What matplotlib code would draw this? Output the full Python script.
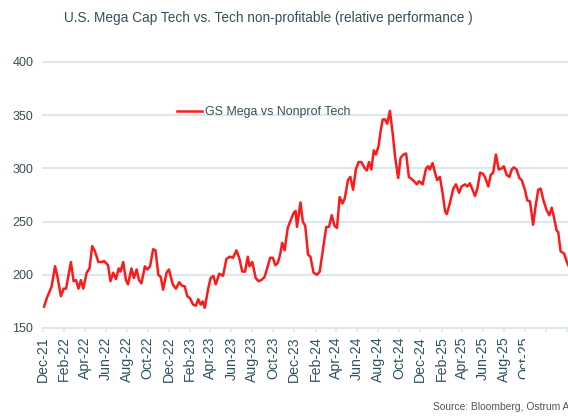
import matplotlib
matplotlib.use("Agg")
import matplotlib.pyplot as plt
import matplotlib.dates as mdates
from matplotlib.transforms import Bbox
import pandas as pd

plt.rcParams['font.family'] = ['Liberation Sans', 'DejaVu Sans']

title = "U.S. Mega Cap Tech vs. Tech non-profitable (relative performance )"
series_name = "GS Mega vs Nonprof Tech"
source = "Source: Bloomberg, Ostrum AM"

dates = [
    "2021-12-04", "2021-12-12", "2021-12-26", "2022-01-05", "2022-01-12", "2022-01-22",
    "2022-01-30", "2022-02-06", "2022-02-20", "2022-02-28", "2022-03-07", "2022-03-14",
    "2022-03-21", "2022-03-28", "2022-04-07", "2022-04-15", "2022-04-23", "2022-05-01",
    "2022-05-11", "2022-05-21", "2022-05-27", "2022-06-08", "2022-06-15", "2022-06-23",
    "2022-07-01", "2022-07-09", "2022-07-14", "2022-07-22", "2022-07-30", "2022-08-05",
    "2022-08-15", "2022-08-22", "2022-08-30", "2022-09-06", "2022-09-13", "2022-09-23",
    "2022-09-30", "2022-10-08", "2022-10-17", "2022-10-24", "2022-11-01", "2022-11-08",
    "2022-11-15", "2022-11-25", "2022-12-02", "2022-12-13", "2022-12-22", "2023-01-01",
    "2023-01-08", "2023-01-17", "2023-01-24", "2023-02-01", "2023-02-10", "2023-02-18",
    "2023-02-25", "2023-03-04", "2023-03-10", "2023-03-16", "2023-03-26", "2023-04-02",
    "2023-04-10", "2023-04-17", "2023-04-27", "2023-05-08", "2023-05-18", "2023-05-28",
    "2023-06-06", "2023-06-16", "2023-06-24", "2023-07-03", "2023-07-11", "2023-07-19",
    "2023-07-24", "2023-08-01", "2023-08-11", "2023-08-19", "2023-08-27", "2023-09-06",
    "2023-09-15", "2023-09-22", "2023-09-30", "2023-10-07", "2023-10-14", "2023-10-21",
    "2023-10-27", "2023-11-03", "2023-11-12", "2023-11-19", "2023-11-29", "2023-12-05",
    "2023-12-09", "2023-12-19", "2023-12-26", "2024-01-02", "2024-01-10", "2024-01-17",
    "2024-01-26", "2024-02-05", "2024-02-13", "2024-02-22", "2024-03-03", "2024-03-11",
    "2024-03-19", "2024-03-27", "2024-04-03", "2024-04-11", "2024-04-19", "2024-04-26",
    "2024-05-05", "2024-05-12", "2024-05-20", "2024-05-28", "2024-06-05", "2024-06-13",
    "2024-06-23", "2024-06-29", "2024-07-05", "2024-07-12", "2024-07-19", "2024-07-25",
    "2024-08-02", "2024-08-08", "2024-08-14", "2024-08-21", "2024-08-27", "2024-09-04",
    "2024-09-12", "2024-09-19", "2024-09-28", "2024-10-05", "2024-10-13", "2024-10-21",
    "2024-10-29", "2024-11-06", "2024-11-13", "2024-11-21", "2024-11-28", "2024-12-08",
    "2024-12-18", "2024-12-24", "2024-12-29", "2025-01-06", "2025-01-13", "2025-01-19",
    "2025-01-27", "2025-02-04", "2025-02-11", "2025-02-16", "2025-02-25", "2025-03-07",
    "2025-03-15", "2025-03-24", "2025-03-31", "2025-04-10", "2025-04-17", "2025-04-24",
    "2025-05-02", "2025-05-09", "2025-05-16", "2025-05-24", "2025-06-01", "2025-06-07",
    "2025-06-17", "2025-06-24", "2025-07-01", "2025-07-09", "2025-07-17", "2025-07-26",
    "2025-08-01", "2025-08-09", "2025-08-17", "2025-08-24", "2025-08-30", "2025-09-07",
    "2025-09-15", "2025-09-22", "2025-10-01", "2025-10-08", "2025-10-16", "2025-10-25",
    "2025-11-02", "2025-11-09", "2025-11-16", "2025-11-24", "2025-12-03", "2025-12-11",
    "2025-12-18", "2025-12-24", "2026-01-01", "2026-01-06", "2026-01-13", "2026-01-23",
    "2026-01-31", "2026-02-04",
]
values = [
    170, 178, 189, 208, 198, 180,
    187, 187, 212, 194, 195, 187,
    195, 187, 202, 206, 227, 222,
    212, 212, 213, 209, 194, 202,
    196, 206, 203, 212, 195, 191,
    206, 197, 205, 195, 192, 208,
    205, 208, 224, 223, 200, 198,
    186, 202, 205, 191, 187, 193,
    190, 189, 180, 178, 172, 171,
    177, 172, 175, 169, 187, 197,
    199, 191, 201, 199, 215, 217,
    216, 223, 216, 203, 203, 217,
    208, 212, 197, 194, 195, 198,
    208, 216, 216, 209, 211, 219,
    230, 223, 244, 250, 258, 260,
    245, 268, 250, 246, 219, 217,
    202, 200, 203, 223, 245, 245,
    256, 246, 244, 273, 267, 272,
    289, 292, 280, 299, 306, 306,
    300, 298, 306, 299, 317, 313,
    321, 335, 346, 346, 342, 354,
    333, 311, 291, 310, 313, 314,
    292, 290, 288, 285, 288, 285,
    300, 302, 299, 305, 296, 289,
    292, 277, 260, 257, 267, 281,
    285, 277, 283, 285, 283, 286,
    280, 274, 281, 296, 295, 292,
    283, 294, 296, 313, 299, 300,
    302, 294, 292, 299, 301, 299,
    291, 289, 280, 270, 269, 247,
    266, 280, 281, 270, 261, 256,
    263, 255, 242, 240, 222, 220,
    212, 209,
]
y_ticks = [150, 200, 250, 300, 350, 400]
x_start = "2021-12-01"
x_end = "2026-02-15"

W, H = 568, 416
fig = plt.figure(figsize=(W / 100, H / 100), dpi=100)
ax = fig.add_axes([43 / W, (H - 328) / H, 529 / W, 266 / H])

grid_c = "#dde7ee"
txt_c = "#34505b"

x = pd.to_datetime(dates)
ax.plot(x, values, color="#ff1a1a", lw=1.8, label=series_name, solid_joinstyle="round")

ax.set_xlim(pd.Timestamp(x_start), pd.Timestamp(x_end))
ax.set_ylim(y_ticks[0], y_ticks[-1])
ax.set_yticks(y_ticks)
for v in y_ticks[1:]:
    ax.axhline(v, color=grid_c, lw=1.5, zorder=0, clip_on=False)

for s in ["top", "right", "left"]:
    ax.spines[s].set_visible(False)
ax.spines["bottom"].set_color(grid_c)
ax.spines["bottom"].set_linewidth(1.5)

ax.xaxis.set_major_locator(mdates.MonthLocator(bymonth=[2, 4, 6, 8, 10, 12]))
ax.xaxis.set_major_formatter(mdates.DateFormatter("%b-%y"))
ax.tick_params(axis="x", rotation=90, labelsize=10.2, colors=grid_c, labelcolor="#2b5461",
               length=3, width=1.2, pad=3)
ax.tick_params(axis="y", labelsize=9, length=0, pad=7, labelcolor="#3c4d55")

# the reference's tick labels are cut off at about x = 525 px
fig.canvas.draw()
clip = Bbox.from_extents(0, 0, 525, H)
for lab in ax.get_xticklabels():
    lab.set_clip_box(clip)
    lab.set_clip_on(True)

fig.text(268 / W, 1 - 18 / H, title, ha="center", va="center", fontsize=9.85, color=txt_c)
fig.text(433 / W, 1 - 407 / H, source, ha="left", va="center", fontsize=7.4, color="#555555")

leg = ax.legend(loc="center left", bbox_to_anchor=(177 / W, 1 - 112 / H),
                bbox_transform=fig.transFigure, frameon=False, fontsize=8.9,
                handlelength=2.05, handletextpad=0.25, borderpad=0, borderaxespad=0)
for t in leg.get_texts():
    t.set_color("#3a4f58")

fig.savefig("out.png", dpi=100)
